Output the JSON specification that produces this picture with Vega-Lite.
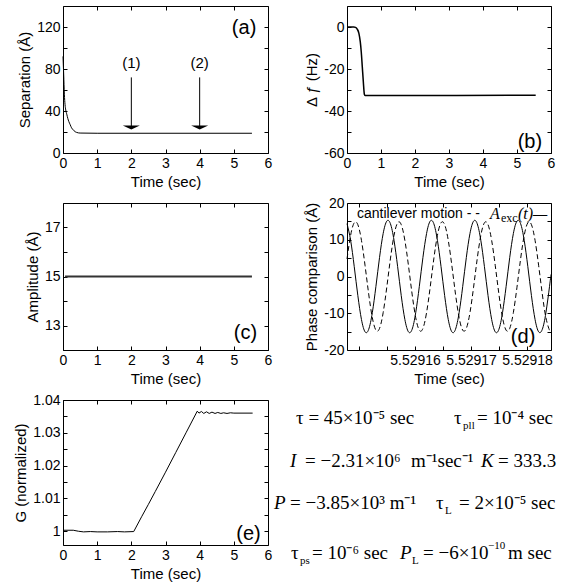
{
  "$schema": "https://vega.github.io/schema/vega-lite/v6.json",
  "padding": {"left": 13, "top": 5, "right": 0, "bottom": 0},
  "columns": 2,
  "spacing": {"row": 50, "column": 79},
  "bounds": "flush",
  "config": {
    "font": "Liberation Sans",
    "view": {"stroke": "black", "strokeWidth": 1},
    "axis": {"grid": false, "domain": false, "tickColor": "black", "tickSize": -4, "tickWidth": 1,
      "labelColor": "black", "labelFontSize": 14, "labelPadding": 7, "labelFont": "Liberation Sans",
      "labelFlush": false, "labelOverlap": false,
      "titleColor": "black", "titleFontSize": 15, "titleFontWeight": "normal", "titlePadding": 4, "titleFont": "Liberation Sans"},
    "text": {"color": "black"}
  },
  "concat": [
    {
      "width": 205, "height": 147,
      "resolve": {"axis": {"x": "independent", "y": "independent"}},
      "layer": [
        {
          "data": {"values": [
            {"t": 0, "sep": 92}, {"t": 0.02, "sep": 75}, {"t": 0.04, "sep": 56}, {"t": 0.06, "sep": 46},
            {"t": 0.08, "sep": 41}, {"t": 0.11, "sep": 37}, {"t": 0.14, "sep": 33}, {"t": 0.17, "sep": 30},
            {"t": 0.21, "sep": 27}, {"t": 0.25, "sep": 24}, {"t": 0.3, "sep": 22}, {"t": 0.35, "sep": 20.4},
            {"t": 0.4, "sep": 19.6}, {"t": 0.5, "sep": 19}, {"t": 1, "sep": 18.8}, {"t": 5.53, "sep": 18.8}
          ]},
          "mark": {"type": "line", "color": "black", "strokeWidth": 1, "interpolate": "monotone"},
          "encoding": {
            "x": {"field": "t", "type": "quantitative", "scale": {"domain": [0, 6], "nice": false, "zero": false},
              "axis": {"title": "Time (sec)", "values": [0, 1, 2, 3, 4, 5, 6]}},
            "y": {"field": "sep", "type": "quantitative", "scale": {"domain": [0, 140], "nice": false},
              "axis": {"title": "Separation  (Å)", "values": [0, 20, 40, 60, 80, 100, 120],
                "labelExpr": "datum.value % 40 === 0 ? datum.label : ''"}}
          }
        },
        {
          "data": {"values": [{"t": 2, "top": 72, "bottom": 25}, {"t": 4, "top": 72, "bottom": 25}]},
          "mark": {"type": "rule", "color": "black", "strokeWidth": 1},
          "encoding": {
            "x": {"field": "t", "type": "quantitative", "axis": {"orient": "top", "labels": false, "title": null, "values": [0, 1, 2, 3, 4, 5, 6]}},
            "y": {"field": "top", "type": "quantitative", "axis": {"orient": "right", "labels": false, "title": null, "values": [0, 20, 40, 60, 80, 100, 120]}},
            "y2": {"field": "bottom"}
          }
        },
        {
          "data": {"values": [{"t": 2, "bottom": 24.5}, {"t": 4, "bottom": 24.5}]},
          "mark": {"type": "point", "shape": "M-1,-0.2L1,-0.2L0,0.25Z", "filled": true, "color": "black", "size": 289, "opacity": 1},
          "encoding": {
            "x": {"field": "t", "type": "quantitative", "axis": null},
            "y": {"field": "bottom", "type": "quantitative", "axis": null}
          }
        },
        {
          "data": {"values": [{"t": 2, "label": "(1)"}, {"t": 4, "label": "(2)"}]},
          "mark": {"type": "text", "fontSize": 15, "color": "black"},
          "encoding": {
            "x": {"field": "t", "type": "quantitative", "axis": null},
            "y": {"datum": 86, "type": "quantitative", "axis": null},
            "text": {"field": "label"}
          }
        },
        {
          "data": {"values": [{"label": "(a)"}]},
          "mark": {"type": "text", "fontSize": 20, "color": "black"},
          "encoding": {
            "x": {"datum": 5.3, "type": "quantitative", "axis": null},
            "y": {"datum": 119, "type": "quantitative", "axis": null},
            "text": {"field": "label"}
          }
        }
      ]
    },
    {
      "width": 204, "height": 147,
      "resolve": {"axis": {"x": "independent", "y": "independent"}},
      "layer": [
        {
          "data": {"name": "df", "values": [
            {"t": 0, "df": 0}, {"t": 0.2, "df": 0}, {"t": 0.25, "df": -0.2}, {"t": 0.3, "df": -1},
            {"t": 0.35, "df": -3}, {"t": 0.39, "df": -7}, {"t": 0.42, "df": -12}, {"t": 0.45, "df": -19},
            {"t": 0.48, "df": -26}, {"t": 0.51, "df": -32}, {"t": 0.53, "df": -32.6}, {"t": 5.55, "df": -32.5}
          ]},
          "mark": {"type": "line", "color": "black", "strokeWidth": 1.5, "interpolate": "monotone"},
          "encoding": {
            "x": {"field": "t", "type": "quantitative", "scale": {"domain": [0, 6], "nice": false, "zero": false},
              "axis": {"title": "Time (sec)", "values": [0, 1, 2, 3, 4, 5, 6]}},
            "y": {"field": "df", "type": "quantitative", "scale": {"domain": [-60, 10], "nice": false},
              "axis": {"title": "Δ ƒ  (Hz)", "values": [-60, -50, -40, -30, -20, -10, 0],
                "labelExpr": "datum.value % 20 === 0 ? replace(datum.label, '−', '-') : ''"}}
          }
        },
        {
          "data": {"name": "df"},
          "mark": {"type": "line", "opacity": 0},
          "encoding": {
            "x": {"field": "t", "type": "quantitative", "axis": {"orient": "top", "labels": false, "title": null, "values": [0, 1, 2, 3, 4, 5, 6]}},
            "y": {"field": "df", "type": "quantitative", "axis": {"orient": "right", "labels": false, "title": null, "values": [-60, -50, -40, -30, -20, -10, 0]}}
          }
        },
        {
          "data": {"values": [{"label": "(b)"}]},
          "mark": {"type": "text", "fontSize": 20, "color": "black"},
          "encoding": {
            "x": {"datum": 5.38, "type": "quantitative", "axis": null},
            "y": {"datum": -54.8, "type": "quantitative", "axis": null},
            "text": {"field": "label"}
          }
        }
      ]
    },
    {
      "width": 205, "height": 147,
      "resolve": {"axis": {"x": "independent", "y": "independent"}},
      "layer": [
        {
          "data": {"name": "amp", "values": [{"t": 0.06, "a": 15}, {"t": 5.53, "a": 15}]},
          "mark": {"type": "line", "color": "#333", "strokeWidth": 1.8},
          "encoding": {
            "x": {"field": "t", "type": "quantitative", "scale": {"domain": [0, 6], "nice": false, "zero": false},
              "axis": {"title": "Time (sec)", "values": [0, 1, 2, 3, 4, 5, 6]}},
            "y": {"field": "a", "type": "quantitative", "scale": {"domain": [12, 18], "nice": false, "zero": false},
              "axis": {"title": "Amplitude  (Å)", "values": [12, 13, 14, 15, 16, 17],
                "labelExpr": "datum.value === 13 || datum.value === 15 || datum.value === 17 ? datum.label : ''"}}
          }
        },
        {
          "data": {"name": "amp"},
          "mark": {"type": "line", "opacity": 0},
          "encoding": {
            "x": {"field": "t", "type": "quantitative", "axis": {"orient": "top", "labels": false, "title": null, "values": [0, 1, 2, 3, 4, 5, 6]}},
            "y": {"field": "a", "type": "quantitative", "axis": {"orient": "right", "labels": false, "title": null, "values": [12, 13, 14, 15, 16, 17]}}
          }
        },
        {
          "data": {"values": [{"label": "(c)"}]},
          "mark": {"type": "text", "fontSize": 20, "color": "black"},
          "encoding": {
            "x": {"datum": 5.34, "type": "quantitative", "axis": null},
            "y": {"datum": 12.7, "type": "quantitative", "axis": null},
            "text": {"field": "label"}
          }
        }
      ]
    },
    {
      "width": 204, "height": 147,
      "resolve": {"axis": {"x": "independent", "y": "independent"}},
      "layer": [
        {
          "data": {"name": "wave", "values": [
            {"t": 5.529147857, "s": 14.38, "d": 4.78}, {"t": 5.529148503, "s": 9.85, "d": 11.19},
            {"t": 5.529149149, "s": 2.68, "d": 14.62}, {"t": 5.529149794, "s": -5.2, "d": 14.11},
            {"t": 5.52915044, "s": -11.7, "d": 9.83}, {"t": 5.529151086, "s": -15.07, "d": 2.92},
            {"t": 5.529151732, "s": -14.38, "d": -4.78}, {"t": 5.529152378, "s": -9.85, "d": -11.19},
            {"t": 5.529153024, "s": -2.68, "d": -14.62}, {"t": 5.52915367, "s": 5.2, "d": -14.11},
            {"t": 5.529154315, "s": 11.7, "d": -9.83}, {"t": 5.529154961, "s": 15.07, "d": -2.92},
            {"t": 5.529155607, "s": 14.38, "d": 4.78}, {"t": 5.529156253, "s": 9.85, "d": 11.19},
            {"t": 5.529156899, "s": 2.68, "d": 14.62}, {"t": 5.529157544, "s": -5.2, "d": 14.11},
            {"t": 5.52915819, "s": -11.7, "d": 9.83}, {"t": 5.529158836, "s": -15.07, "d": 2.92},
            {"t": 5.529159482, "s": -14.38, "d": -4.78}, {"t": 5.529160128, "s": -9.85, "d": -11.19},
            {"t": 5.529160774, "s": -2.68, "d": -14.62}, {"t": 5.529161419, "s": 5.2, "d": -14.11},
            {"t": 5.529162065, "s": 11.7, "d": -9.83}, {"t": 5.529162711, "s": 15.07, "d": -2.92},
            {"t": 5.529163357, "s": 14.38, "d": 4.78}, {"t": 5.529164003, "s": 9.85, "d": 11.19},
            {"t": 5.529164649, "s": 2.68, "d": 14.62}, {"t": 5.529165294, "s": -5.2, "d": 14.11},
            {"t": 5.52916594, "s": -11.7, "d": 9.83}, {"t": 5.529166586, "s": -15.07, "d": 2.92},
            {"t": 5.529167232, "s": -14.38, "d": -4.78}, {"t": 5.529167878, "s": -9.85, "d": -11.19},
            {"t": 5.529168524, "s": -2.68, "d": -14.62}, {"t": 5.529169169, "s": 5.2, "d": -14.11},
            {"t": 5.529169815, "s": 11.7, "d": -9.83}, {"t": 5.529170461, "s": 15.07, "d": -2.92},
            {"t": 5.529171107, "s": 14.38, "d": 4.78}, {"t": 5.529171753, "s": 9.85, "d": 11.19},
            {"t": 5.529172399, "s": 2.68, "d": 14.62}, {"t": 5.529173044, "s": -5.2, "d": 14.11},
            {"t": 5.52917369, "s": -11.7, "d": 9.83}, {"t": 5.529174336, "s": -15.07, "d": 2.92},
            {"t": 5.529174982, "s": -14.38, "d": -4.78}, {"t": 5.529175628, "s": -9.85, "d": -11.19},
            {"t": 5.529176274, "s": -2.68, "d": -14.62}, {"t": 5.529176919, "s": 5.2, "d": -14.11},
            {"t": 5.529177565, "s": 11.7, "d": -9.83}, {"t": 5.529178211, "s": 15.07, "d": -2.92},
            {"t": 5.529178857, "s": 14.38, "d": 4.78}, {"t": 5.529179503, "s": 9.85, "d": 11.19},
            {"t": 5.529180149, "s": 2.68, "d": 14.62}, {"t": 5.529180794, "s": -5.2, "d": 14.11},
            {"t": 5.52918144, "s": -11.7, "d": 9.83}, {"t": 5.529182086, "s": -15.07, "d": 2.92},
            {"t": 5.529182732, "s": -14.38, "d": -4.78}, {"t": 5.529183378, "s": -9.85, "d": -11.19},
            {"t": 5.529184024, "s": -2.68, "d": -14.62}, {"t": 5.529184286, "s": 0.56, "d": -14.9}
          ]},
          "mark": {"type": "line", "color": "black", "strokeWidth": 1, "interpolate": "natural"},
          "encoding": {
            "x": {"field": "t", "type": "quantitative", "scale": {"domain": [5.529147857, 5.529184286], "nice": false, "zero": false},
              "axis": {"title": "Time (sec)", "values": [5.52915, 5.529155, 5.52916, 5.529165, 5.52917, 5.529175, 5.52918],
                "labelExpr": "abs(datum.value*1e5 - round(datum.value*1e5)) < 0.01 && datum.value > 5.529155 ? format(datum.value, '.5f') : ''"}},
            "y": {"field": "s", "type": "quantitative", "scale": {"domain": [-20, 20], "nice": false, "zero": false},
              "axis": {"title": "Phase comparison  (Å)", "values": [-20, -15, -10, -5, 0, 5, 10, 15, 20],
                "labelExpr": "datum.value % 10 === 0 ? replace(datum.label, '−', '-') : ''"}}
          }
        },
        {
          "data": {"name": "wave"},
          "mark": {"type": "line", "color": "black", "strokeWidth": 1, "strokeDash": [5, 3], "interpolate": "natural"},
          "encoding": {
            "x": {"field": "t", "type": "quantitative", "axis": {"orient": "top", "labels": false, "title": null, "values": [5.52915, 5.529155, 5.52916, 5.529165, 5.52917, 5.529175, 5.52918]}},
            "y": {"field": "d", "type": "quantitative", "axis": {"orient": "right", "labels": false, "title": null, "values": [-20, -15, -10, -5, 0, 5, 10, 15, 20]}}
          }
        },
        {
          "data": {"values": [{"label": "cantilever motion - -"}]},
          "mark": {"type": "text", "fontSize": 14, "align": "left", "color": "black"},
          "encoding": {
            "x": {"datum": 5.52914964, "type": "quantitative", "axis": null},
            "y": {"datum": 17, "type": "quantitative", "axis": null},
            "text": {"field": "label"}
          }
        },
        {
          "data": {"values": [{"label": "A"}]},
          "mark": {"type": "text", "fontSize": 16, "align": "left", "font": "Liberation Serif", "fontStyle": "italic", "color": "black"},
          "encoding": {
            "x": {"datum": 5.52917339, "type": "quantitative", "axis": null},
            "y": {"datum": 17, "type": "quantitative", "axis": null},
            "text": {"field": "label"}
          }
        },
        {
          "data": {"values": [{"label": "exc"}]},
          "mark": {"type": "text", "fontSize": 12, "align": "left", "font": "Liberation Serif", "color": "black"},
          "encoding": {
            "x": {"datum": 5.52917536, "type": "quantitative", "axis": null},
            "y": {"datum": 15.9, "type": "quantitative", "axis": null},
            "text": {"field": "label"}
          }
        },
        {
          "data": {"values": [{"label": "(t)—"}]},
          "mark": {"type": "text", "fontSize": 16, "align": "left", "font": "Liberation Serif", "fontStyle": "italic", "color": "black"},
          "encoding": {
            "x": {"datum": 5.52917839, "type": "quantitative", "axis": null},
            "y": {"datum": 17, "type": "quantitative", "axis": null},
            "text": {"field": "label"}
          }
        },
        {
          "data": {"values": [{"label": "(d)"}]},
          "mark": {"type": "text", "fontSize": 20, "color": "black"},
          "encoding": {
            "x": {"datum": 5.5291793, "type": "quantitative", "axis": null},
            "y": {"datum": -16.4, "type": "quantitative", "axis": null},
            "text": {"field": "label"}
          }
        }
      ]
    },
    {
      "width": 205, "height": 145,
      "resolve": {"axis": {"x": "independent", "y": "independent"}},
      "layer": [
        {
          "data": {"name": "gn", "values": [
            {"t": 0, "g": 1.0003}, {"t": 0.3, "g": 1.0003}, {"t": 0.45, "g": 1.0}, {"t": 0.6, "g": 0.9998},
            {"t": 0.8, "g": 0.9999}, {"t": 1.0, "g": 0.9998}, {"t": 1.3, "g": 0.9998}, {"t": 1.6, "g": 0.9999},
            {"t": 1.8, "g": 0.9998}, {"t": 2.07, "g": 0.9999}, {"t": 2.3, "g": 1.0044}, {"t": 2.5, "g": 1.0082},
            {"t": 2.7, "g": 1.0121}, {"t": 3.0, "g": 1.018}, {"t": 3.3, "g": 1.024}, {"t": 3.6, "g": 1.03},
            {"t": 3.93, "g": 1.0366}, {"t": 3.98, "g": 1.036}, {"t": 4.05, "g": 1.0365}, {"t": 4.12, "g": 1.0359},
            {"t": 4.2, "g": 1.0364}, {"t": 4.28, "g": 1.0359}, {"t": 4.36, "g": 1.0363}, {"t": 4.45, "g": 1.0359},
            {"t": 4.53, "g": 1.0362}, {"t": 4.62, "g": 1.0359}, {"t": 4.7, "g": 1.0361}, {"t": 4.8, "g": 1.0359},
            {"t": 4.9, "g": 1.0361}, {"t": 5.0, "g": 1.036}, {"t": 5.55, "g": 1.036}
          ]},
          "mark": {"type": "line", "color": "black", "strokeWidth": 1},
          "encoding": {
            "x": {"field": "t", "type": "quantitative", "scale": {"domain": [0, 6], "nice": false, "zero": false},
              "axis": {"title": "Time (sec)", "values": [0, 1, 2, 3, 4, 5, 6]}},
            "y": {"field": "g", "type": "quantitative", "scale": {"domain": [0.9958, 1.04], "nice": false, "zero": false},
              "axis": {"title": "G (normalized)", "values": [1, 1.005, 1.01, 1.015, 1.02, 1.025, 1.03, 1.035, 1.04],
                "labelExpr": "round(datum.value*1000) % 10 === 0 ? format(datum.value, '~g') : ''"}}
          }
        },
        {
          "data": {"name": "gn"},
          "mark": {"type": "line", "opacity": 0},
          "encoding": {
            "x": {"field": "t", "type": "quantitative", "axis": {"orient": "top", "labels": false, "title": null, "values": [0, 1, 2, 3, 4, 5, 6]}},
            "y": {"field": "g", "type": "quantitative", "axis": {"orient": "right", "labels": false, "title": null, "values": [1, 1.005, 1.01, 1.015, 1.02, 1.025, 1.03, 1.035]}}
          }
        },
        {
          "data": {"values": [{"label": "(e)"}]},
          "mark": {"type": "text", "fontSize": 20, "color": "black"},
          "encoding": {
            "x": {"datum": 5.43, "type": "quantitative", "axis": null},
            "y": {"datum": 0.9992, "type": "quantitative", "axis": null},
            "text": {"field": "label"}
          }
        }
      ]
    },
    {
      "width": 204, "height": 145,
      "view": {"stroke": null},
      "layer": [
        {
          "data": {"values": [
            {"x": -2.5, "y": 1.24, "text": "τ = 45×10⁻⁵ sec"}, {"x": 5.25, "y": 1.24, "text": "τ"},
            {"x": 6.37, "y": 1.24, "text": "= 10⁻⁴ sec"},
            {"x": -2.06, "y": 4.21, "text": "= −2.31×10⁶"}, {"x": 3.14, "y": 4.21, "text": "m⁻¹sec⁻¹"},
            {"x": 7.4, "y": 4.21, "text": "= 333.3"},
            {"x": -2.79, "y": 7.1, "text": "= −3.85×10³ m⁻¹"}, {"x": 4.36, "y": 7.1, "text": "τ"},
            {"x": 5.49, "y": 7.1, "text": "= 2×10⁻⁵ sec"},
            {"x": -2.75, "y": 10.55, "text": "τ"}, {"x": -1.72, "y": 10.55, "text": "= 10⁻⁶ sec"},
            {"x": 3.73, "y": 10.55, "text": "= −6×10"}, {"x": 7.89, "y": 10.55, "text": "m sec"}
          ]},
          "mark": {"type": "text", "font": "Liberation Serif", "fontSize": 19, "align": "left", "baseline": "middle", "color": "black"},
          "encoding": {
            "x": {"field": "x", "type": "quantitative", "scale": {"domain": [0, 10], "nice": false, "zero": false}, "axis": null},
            "y": {"field": "y", "type": "quantitative", "scale": {"domain": [0, 10], "reverse": true, "nice": false, "zero": false}, "axis": null},
            "text": {"field": "text"}
          }
        },
        {
          "data": {"values": [
            {"x": -2.79, "y": 4.21, "text": "I"}, {"x": 6.57, "y": 4.21, "text": "K"},
            {"x": -3.58, "y": 7.1, "text": "P"}, {"x": 2.6, "y": 10.55, "text": "P"}
          ]},
          "mark": {"type": "text", "font": "Liberation Serif", "fontStyle": "italic", "fontSize": 19, "align": "left", "baseline": "middle", "color": "black"},
          "encoding": {
            "x": {"field": "x", "type": "quantitative", "axis": null},
            "y": {"field": "y", "type": "quantitative", "axis": null},
            "text": {"field": "text"}
          }
        },
        {
          "data": {"values": [
            {"x": 5.69, "y": 1.79, "text": "pll"}, {"x": 4.8, "y": 7.66, "text": "L"},
            {"x": -2.3, "y": 11.1, "text": "ps"}, {"x": 3.19, "y": 11.1, "text": "L"},
            {"x": 6.91, "y": 10.07, "text": "−10"}
          ]},
          "mark": {"type": "text", "font": "Liberation Serif", "fontSize": 11, "align": "left", "baseline": "middle", "color": "black"},
          "encoding": {
            "x": {"field": "x", "type": "quantitative", "axis": null},
            "y": {"field": "y", "type": "quantitative", "axis": null},
            "text": {"field": "text"}
          }
        }
      ]
    }
  ]
}
